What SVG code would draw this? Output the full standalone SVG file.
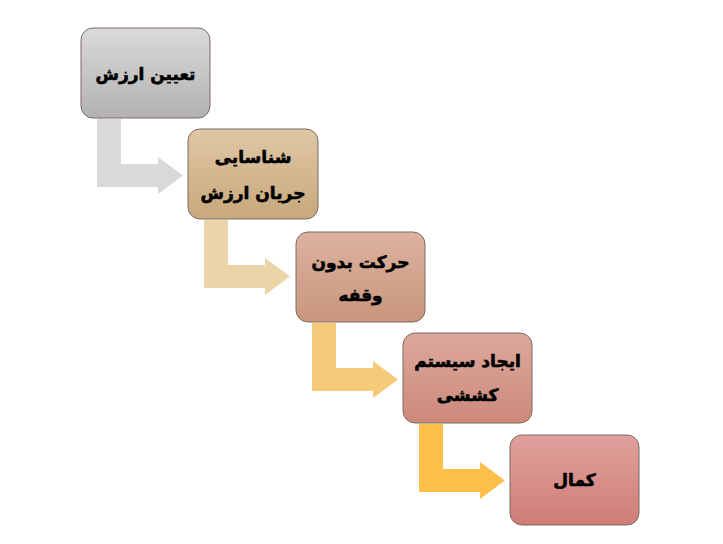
<svg xmlns="http://www.w3.org/2000/svg" width="723" height="544" viewBox="0 0 723 544">
<style>
.box{stroke:#7d6b62;stroke-width:1}
.t{font-family:"DejaVu Sans",sans-serif;font-weight:bold;font-size:17px;fill:#000;stroke:#000;stroke-width:0.6;text-anchor:middle;direction:rtl}
</style>
<defs>
<linearGradient id="g1" x1="0" y1="0" x2="0" y2="1"><stop offset="0" stop-color="#dadada"/><stop offset="1" stop-color="#b2b2b2"/></linearGradient>
<linearGradient id="g2" x1="0" y1="0" x2="0" y2="1"><stop offset="0" stop-color="#dfc7a5"/><stop offset="1" stop-color="#c8a87c"/></linearGradient>
<linearGradient id="g3" x1="0" y1="0" x2="0" y2="1"><stop offset="0" stop-color="#dcb2a0"/><stop offset="1" stop-color="#c9967c"/></linearGradient>
<linearGradient id="g4" x1="0" y1="0" x2="0" y2="1"><stop offset="0" stop-color="#dda99c"/><stop offset="1" stop-color="#cc897a"/></linearGradient>
<linearGradient id="g5" x1="0" y1="0" x2="0" y2="1"><stop offset="0" stop-color="#e0a19c"/><stop offset="1" stop-color="#cf7d77"/></linearGradient>
<path id="arr" d="M16,91 H40 V136 H77 V129 L102,147.5 L77,166 V159 H16 Z"/>
</defs>
<g id="connectors">
<use href="#arr" x="81" y="28" fill="#d9d9d9"/>
<use href="#arr" x="188" y="129" fill="#ebd4a7"/>
<use href="#arr" x="296" y="232" fill="#f5ca78"/>
<use href="#arr" x="403" y="333" fill="#fec04b"/>
</g>
<g id="n1"><rect class="box" x="81" y="28" width="129" height="90" rx="12" fill="url(#g1)"/><text class="t" x="145.5" y="80">تعیین ارزش</text></g>
<g id="n2"><rect class="box" x="188" y="129" width="130" height="90" rx="12" fill="url(#g2)"/><text class="t" x="253" y="163">شناسایی</text><text class="t" x="253" y="199">جریان ارزش</text></g>
<g id="n3"><rect class="box" x="296" y="232" width="129" height="90" rx="12" fill="url(#g3)"/><text class="t" x="360.5" y="268">حرکت بدون</text><text class="t" x="360.5" y="301">وقفه</text></g>
<g id="n4"><rect class="box" x="403" y="333" width="129" height="90" rx="12" fill="url(#g4)"/><text class="t" x="467.5" y="367">ایجاد سیستم</text><text class="t" x="467.5" y="401">کششی</text></g>
<g id="n5"><rect class="box" x="510" y="435" width="129" height="90" rx="12" fill="url(#g5)"/><text class="t" x="574.5" y="486">کمال</text></g>
</svg>
